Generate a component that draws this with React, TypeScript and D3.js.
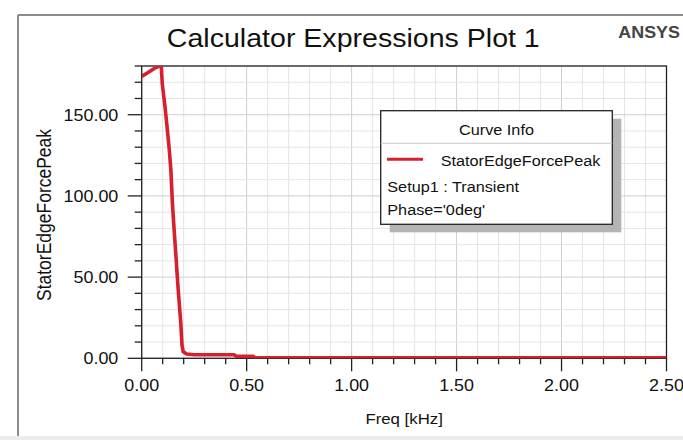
import React from "react";
import * as d3 from "d3";

const freqs = [0, 0.03, 0.06, 0.093, 0.098, 0.111, 0.122, 0.131, 0.139, 0.146, 0.152, 0.163, 0.174, 0.186, 0.192, 0.198, 0.214, 0.25, 0.44, 0.45, 0.53, 0.54, 1.0, 2.5];
const peaks = [173.5, 176, 178.5, 180.5, 169, 155, 141, 129, 116, 96, 84, 63, 42, 22, 8, 4, 2.6, 2.2, 2.2, 1.3, 1.2, 0.4, 0.3, 0.3];
const xTickValues = [0, 0.5, 1.0, 1.5, 2.0, 2.5];
const yTickValues = [0, 50, 100, 150];
const legendLines = ["Setup1 : Transient", "Phase='0deg'"];

const W = 683, H = 440;
const L = 141.7, R = 666.5, T = 66, B = 358.3;
const SX = 1.12;
const FONT = "'Liberation Sans', Arial, sans-serif";
const RED = "#d8202c";

function SText(props: { x: number; y: number; size: number; anchor?: string; children: any; weight?: any; fill?: string; rotate?: boolean }) {
  const { x, y, size, anchor = "start", children, weight = "normal", fill = "#111", rotate = false } = props;
  return (
    <text
      transform={`translate(${x},${y}) scale(${SX},1)${rotate ? " rotate(-90)" : ""}`}
      fontSize={size}
      fontFamily={FONT}
      fontWeight={weight}
      textAnchor={anchor}
      fill={fill}
    >
      {children}
    </text>
  );
}

export default function App() {
  const x = d3.scaleLinear().domain([0, 2.5]).range([L, R]);
  const y = d3.scaleLinear().domain([0, 180]).range([B, T]);
  const data = freqs.map((f, i) => [f, peaks[i]] as [number, number]);
  const line = d3.line<[number, number]>().x((d) => x(d[0])).y((d) => y(d[1]));

  const xGrid = d3.range(0, 26).map((i) => i / 10);
  const yGrid = d3.range(0, 19).map((i) => i * 10);
  const xMinor = d3.range(0, 26).map((i) => i / 10).filter((v) => Math.round(v * 10) % 5 !== 0);
  const yMinor = d3.range(0, 19).map((i) => i * 10).filter((v) => v % 50 !== 0);

  const fmt = d3.format(".2f");

  // legend box
  const lx = 380.7, ly = 110.7, lw = 231.6, lh = 113.6;

  return (
    <svg width={W} height={H} style={{ position: "absolute", left: 0, top: 0, background: "#fff" }}>
      <defs>
        <clipPath id="plotclip">
          <rect x={L} y={T} width={R - L} height={B - T} />
        </clipPath>
      </defs>
      <rect x={0} y={0} width={W} height={H} fill="#fff" />
      {/* outer panel frame */}
      <rect x={0} y={436} width={W} height={4} fill="#ececec" />
      <line x1={18} y1={15} x2={W} y2={15} stroke="#8c8c8c" strokeWidth={2} />
      <line x1={18} y1={15} x2={18} y2={436} stroke="#8c8c8c" strokeWidth={2} />

      {/* title */}
      <SText x={353.3} y={47.3} size={25.5} anchor="middle">Calculator Expressions Plot 1</SText>
      <SText x={618.3} y={38.3} size={16} weight="bold" fill="#444">ANSYS</SText>

      {/* grid */}
      {xGrid.map((v) => (
        <line key={"gx" + v} x1={x(v)} x2={x(v)} y1={T} y2={B}
          stroke={Math.round(v * 10) % 5 === 0 ? "#cfcfcf" : "#e4e4e4"} strokeWidth={1} />
      ))}
      {yGrid.map((v) => (
        <line key={"gy" + v} x1={L} x2={R} y1={y(v)} y2={y(v)}
          stroke={v % 50 === 0 ? "#cfcfcf" : "#e4e4e4"} strokeWidth={1} />
      ))}

      {/* plot frame */}
      <rect x={L} y={T} width={R - L} height={B - T} fill="none" stroke="#222" strokeWidth={1.3} />

      {/* ticks */}
      {xTickValues.map((v) => (
        <line key={"xt" + v} x1={x(v)} x2={x(v)} y1={B} y2={B + 13} stroke="#222" strokeWidth={1.3} />
      ))}
      {xMinor.map((v) => (
        <line key={"xm" + v} x1={x(v)} x2={x(v)} y1={B} y2={B + 6} stroke="#222" strokeWidth={1.3} />
      ))}
      {yTickValues.map((v) => (
        <line key={"yt" + v} x1={L - 14} x2={L} y1={y(v)} y2={y(v)} stroke="#222" strokeWidth={1.3} />
      ))}
      {yMinor.map((v) => (
        <line key={"ym" + v} x1={L - 7} x2={L} y1={y(v)} y2={y(v)} stroke="#222" strokeWidth={1.3} />
      ))}

      {/* tick labels */}
      {xTickValues.map((v) => (
        <SText key={"xl" + v} x={x(v)} y={391} size={16} anchor="middle">{fmt(v)}</SText>
      ))}
      {yTickValues.map((v) => (
        <SText key={"yl" + v} x={118.3} y={y(v) + 6} size={16} anchor="end">{fmt(v)}</SText>
      ))}

      {/* axis labels */}
      <SText x={(L + R) / 2} y={424} size={15} anchor="middle">Freq [kHz]</SText>
      <SText x={51} y={215} size={17.5} anchor="middle" rotate>StatorEdgeForcePeak</SText>

      {/* curve */}
      <g clipPath="url(#plotclip)">
        <path d={line(data) || ""} fill="none" stroke={RED} strokeWidth={3.6} strokeLinejoin="round" />
      </g>

      {/* legend */}
      <rect x={lx + 9} y={ly + 8} width={lw} height={lh} fill="#b4b4b4" />
      <rect x={lx} y={ly} width={lw} height={lh} fill="#fff" stroke="#222" strokeWidth={1.3} />
      <line x1={lx} x2={lx + lw} y1={143.3} y2={143.3} stroke="#c8c8c8" strokeWidth={1} />
      <SText x={lx + lw / 2} y={135} size={14.5} anchor="middle">Curve Info</SText>
      <line x1={387} x2={423} y1={159.3} y2={159.3} stroke={RED} strokeWidth={3} />
      <SText x={440.7} y={166} size={14.5}>StatorEdgeForcePeak</SText>
      {legendLines.map((t, i) => (
        <SText key={t} x={387.3} y={191.5 + i * 23.5} size={14.5}>{t}</SText>
      ))}
    </svg>
  );
}
